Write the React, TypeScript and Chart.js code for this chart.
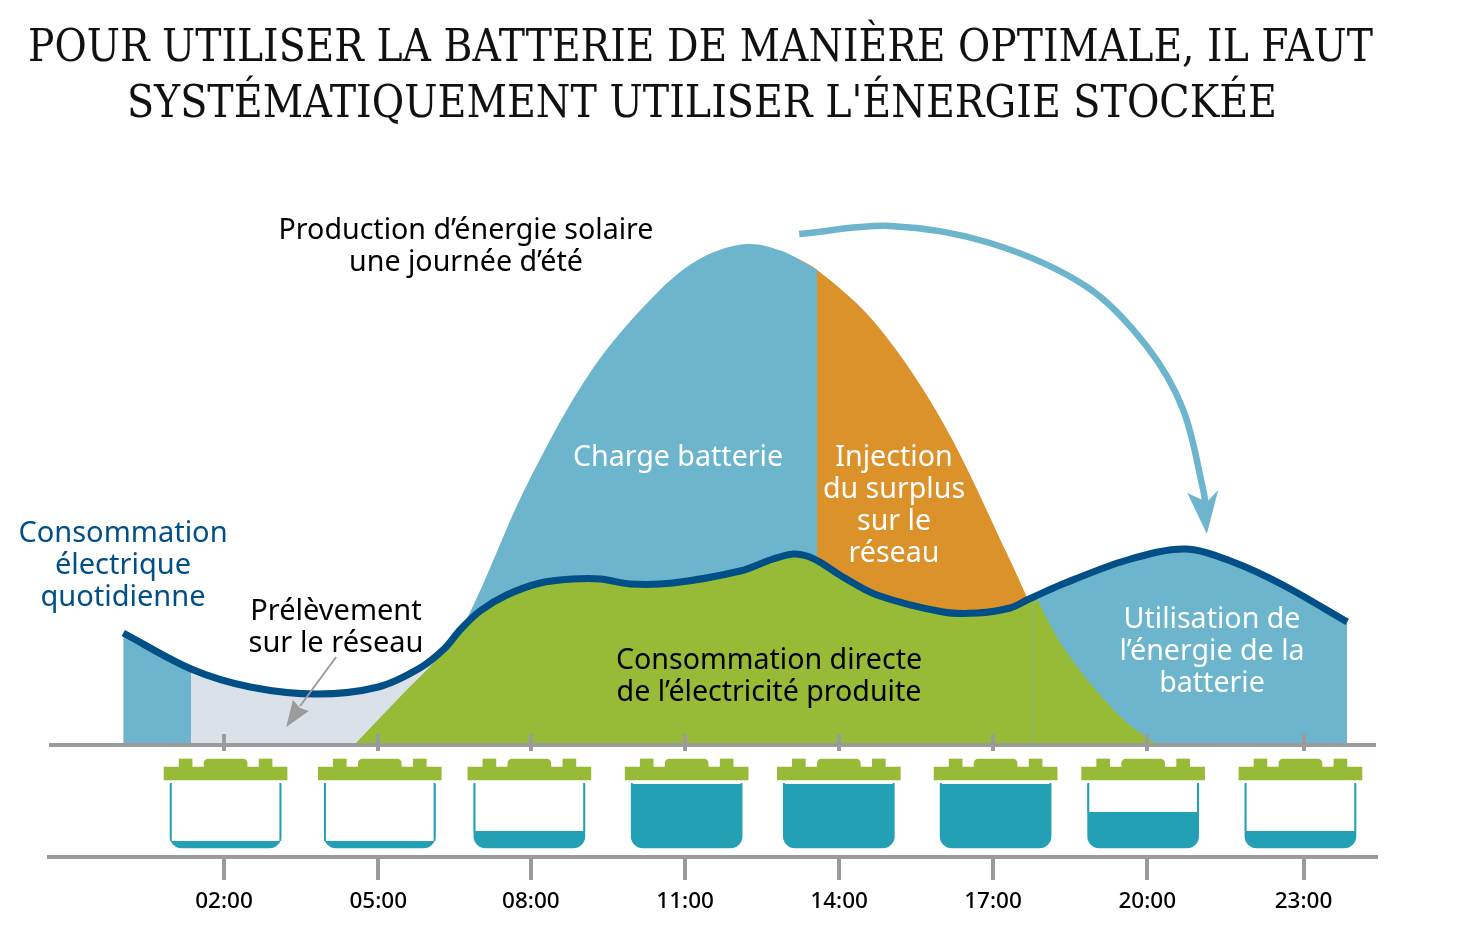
import React, { useEffect, useRef } from "react";
import { Chart, registerables } from "chart.js";

Chart.register(...registerables);

const titleLines = [
  "POUR UTILISER LA BATTERIE DE MANIÈRE OPTIMALE, IL FAUT",
  "SYSTÉMATIQUEMENT UTILISER L'ÉNERGIE STOCKÉE",
];
const tickHours = [2, 5, 7.97, 10.97, 13.965, 16.96, 19.96, 23];
const tickLabels = ["02:00", "05:00", "08:00", "11:00", "14:00", "17:00", "20:00", "23:00"];

const consumptionHours = [0.04, 1.36, 2.51, 3.81, 5.0, 5.81, 6.3, 6.59, 6.98, 7.5, 8.15, 8.79, 9.32, 9.9, 10.73, 12.04, 12.68, 13.07, 13.34, 13.59, 14.04, 14.7, 15.99, 16.65, 17.29, 17.62, 17.75, 18.27, 19.57, 20.7, 21.63, 22.6, 23.85];
const consumptionValues = [1.11, 0.75, 0.57, 0.5, 0.57, 0.76, 0.96, 1.14, 1.33, 1.49, 1.61, 1.65, 1.65, 1.6, 1.61, 1.73, 1.85, 1.9, 1.88, 1.82, 1.67, 1.49, 1.32, 1.31, 1.36, 1.44, 1.47, 1.59, 1.84, 1.95, 1.82, 1.59, 1.22];

const solarHours = [4.55, 5.42, 6.2, 6.73, 7.89, 9.18, 10.48, 11.32, 12.17, 12.85, 13.54, 14.7, 15.99, 17.29, 17.6, 17.7];
const solarValues = [0, 0.47, 0.88, 1.26, 2.59, 3.76, 4.54, 4.87, 5.0, 4.93, 4.74, 4.19, 3.21, 1.84, 1.49, 1.38];
const directTailHours = [17.75, 17.83, 18.27, 18.91, 19.57, 20.15];
const directTailValues = [1.49, 1.43, 1.01, 0.57, 0.21, 0];

const batteryHours = [2.03, 5.03, 7.94, 11.0, 13.96, 17.01, 19.88, 22.94];
const batteryLevels = [-0.97, -0.97, -0.87, -0.4, -0.4, -0.4, -0.68, -0.87];

const transferArrowHours = [13.19, 14.96, 16.9, 18.79, 19.96, 20.66, 21.05, 21.09];
const transferArrowValues = [5.1, 5.18, 5.01, 4.57, 3.97, 3.34, 2.54, 2.41];
const transferHeadHours = [20.74, 21.12, 21.34, 21.12, 20.74];
const transferHeadValues = [2.51, 2.1, 2.54, 2.42, 2.51];
const gridArrowHours = [4.18, 3.48];
const gridArrowValues = [0.87, 0.38];
const gridHeadHours = [3.34, 3.21, 3.65, 3.48, 3.34];
const gridHeadValues = [0.44, 0.17, 0.33, 0.36, 0.44];

const BLUE = "#6CB5CD";
const ORANGE = "#DB922B";
const GREEN = "#97BB36";
const PALE = "#DAE1E8";
const NAVY = "#004F86";
const TEAL = "#23A0B4";
const GREY = "#9B9B9B";

const textFont = '"Noto Sans"';
type Note = { lines: string[]; cx: number; y: number; step: number; color: string; size: number };
const notes: Note[] = [
  { lines: ["Production d’énergie solaire", "une journée d’été"], cx: 466, y: 239, step: 32, color: "#000", size: 28.6 },
  { lines: ["Charge batterie"], cx: 678, y: 466, step: 32, color: "#fff", size: 28.6 },
  { lines: ["Injection", "du surplus", "sur le", "réseau"], cx: 894, y: 466, step: 32, color: "#fff", size: 28.6 },
  { lines: ["Consommation directe", "de l’électricité produite"], cx: 769, y: 669, step: 32, color: "#000", size: 28.6 },
  { lines: ["Consommation", "électrique", "quotidienne"], cx: 123, y: 542, step: 32, color: NAVY, size: 29 },
  { lines: ["Prélèvement", "sur le réseau"], cx: 336, y: 620, step: 32, color: "#000", size: 29 },
  { lines: ["Utilisation de", "l’énergie de la", "batterie"], cx: 1212, y: 628, step: 32, color: "#fff", size: 28.6 },
];

const pts = (xs: number[], ys: number[]) => xs.map((x, i) => ({ x, y: ys[i] }));
const consumption = pts(consumptionHours, consumptionValues);
const solar = pts(solarHours, solarValues);
const greenMain = [...solar.filter((p) => p.x < 6.5), ...consumption.filter((p) => p.x >= 6.5 && p.x <= 17.75)];
const greenTail = pts(directTailHours, directTailValues);

const CURVE = 0.33;
const area = (data: { x: number; y: number }[], color: string, order: number) => ({
  type: "line",
  data,
  order,
  fill: "origin",
  backgroundColor: color,
  borderWidth: 0,
  pointRadius: 0,
  tension: CURVE,
});
const stroke = (data: { x: number; y: number }[], color: string, width: number, order: number) => ({
  type: "line",
  data,
  order,
  fill: false,
  borderColor: color,
  borderWidth: width,
  pointRadius: 0,
  tension: CURVE,
  borderCapStyle: "butt",
});
const head = (data: { x: number; y: number }[], color: string, order: number) => ({
  type: "line",
  data,
  order,
  fill: "shape",
  backgroundColor: color,
  borderWidth: 0,
  pointRadius: 0,
  tension: 0,
});
const bar = (data: { x: number; y: number[] }[], color: string, thickness: number, order: number, extra = {}) => ({
  type: "bar",
  data,
  order,
  backgroundColor: color,
  barThickness: thickness,
  grouped: false,
  borderWidth: 0,
  borderSkipped: false,
  ...extra,
});

const noteAndTitle = {
  id: "noteAndTitle",
  afterDraw(chart: any) {
    const { ctx } = chart;
    ctx.save();
    ctx.textAlign = "center";
    ctx.textBaseline = "alphabetic";
    ctx.fillStyle = "#111";
    ctx.font = '45px "DejaVu Serif"';
    ctx.fillText(titleLines[0], 700.5, 61, 1345);
    ctx.fillText(titleLines[1], 702, 117, 1150);
    notes.forEach((n) => {
      ctx.fillStyle = n.color;
      ctx.font = `${n.size}px ${textFont}`;
      n.lines.forEach((line, i) => ctx.fillText(line, n.cx, n.y + i * n.step));
    });
    ctx.restore();
  },
};

export default function App() {
  const ref = useRef<HTMLCanvasElement>(null);
  useEffect(() => {
    const setTicks = (scale: any) => {
      scale.ticks = tickHours.map((value) => ({ value }));
    };
    const xMin = -1.405;
    const xMax = 24.41;
    const chart = new Chart(ref.current as HTMLCanvasElement, {
      type: "line",
      data: {
        datasets: [
          area(solar.filter((p) => p.x >= 12.85), ORANGE, 21),
          area(solar.filter((p) => p.x >= 6.2 && p.x <= 13.54), BLUE, 20),
          area(consumption.filter((p) => p.x <= 6.59), PALE, 17),
          area(consumption.filter((p) => p.x <= 1.36), BLUE, 15),
          area(consumption.filter((p) => p.x >= 17.29), BLUE, 15),
          area(greenMain, GREEN, 10),
          area(greenTail, GREEN, 10),
          stroke([{ x: xMin, y: -0.01 }, { x: xMax, y: -0.01 }], GREY, 4, 6),
          stroke(consumption, NAVY, 7, 5),
          stroke(pts(transferArrowHours, transferArrowValues), BLUE, 6.5, 4),
          head(pts(transferHeadHours, transferHeadValues), BLUE, 4),
          stroke(pts(gridArrowHours, gridArrowValues), GREY, 2, 3),
          head(pts(gridHeadHours, gridHeadValues), GREY, 3),
          bar(batteryHours.map((x) => ({ x, y: [-1.04, -0.4] })), TEAL, 111, 9, {
            borderRadius: { topLeft: 0, topRight: 0, bottomLeft: 12, bottomRight: 12 },
          }),
          bar(batteryHours.map((x, i) => ({ x, y: [batteryLevels[i], -0.39] })), "#fff", 111, 8, {
            borderColor: TEAL,
            borderWidth: { top: 0, left: 2, right: 2, bottom: 0 },
          }),
          bar(batteryHours.map((x) => ({ x, y: [-0.36, -0.23] })), GREEN, 123, 7),
          bar(batteryHours.map((x) => ({ x: x - 0.778, y: [-0.24, -0.15] })), GREEN, 13, 7),
          bar(batteryHours.map((x) => ({ x, y: [-0.24, -0.15] })), GREEN, 43, 7, {
            borderRadius: { topLeft: 7, topRight: 7, bottomLeft: 0, bottomRight: 0 },
          }),
          bar(batteryHours.map((x) => ({ x: x + 0.778, y: [-0.24, -0.15] })), GREEN, 13, 7),
        ] as any,
      },
      options: {
        responsive: false,
        animation: false,
        layout: { padding: { top: 144, left: 49, right: 104, bottom: 0 } },
        plugins: { legend: { display: false }, tooltip: { enabled: false }, title: { display: false } },
        events: [],
        scales: {
          y: { type: "linear", min: -1.13, max: 6, display: false },
          x: {
            type: "linear",
            min: xMin,
            max: xMax,
            offset: false,
            position: "bottom",
            afterBuildTicks: setTicks,
            afterFit: (scale: any) => {
              scale.height = 85;
            },
            grid: { offset: false, drawOnChartArea: false, color: GREY, lineWidth: 4, tickLength: 23 },
            border: { display: true, color: GREY, width: 4 },
            ticks: {
              autoSkip: false,
              maxRotation: 0,
              padding: 8,
              color: "#000",
              font: { family: textFont, size: 22.5, weight: "500" },
              callback: (v: any) => tickLabels[tickHours.indexOf(v)] ?? "",
            },
          },
          xBase: {
            type: "linear",
            axis: "x",
            min: xMin,
            max: xMax,
            offset: false,
            position: { y: 0.1 },
            afterBuildTicks: setTicks,
            grid: { offset: false, drawOnChartArea: false, color: GREY, lineWidth: 4, tickLength: 17, z: 1 },
            border: { display: false },
            ticks: { display: false, autoSkip: false },
          },
        } as any,
      },
      plugins: [noteAndTitle],
    } as any);
    return () => chart.destroy();
  }, []);
  return (
    <div style={{ position: "absolute", left: 0, top: 0, width: 1480, height: 942, background: "#fff" }}>
      <canvas ref={ref} width={1480} height={942} style={{ display: "block" }} />
    </div>
  );
}
